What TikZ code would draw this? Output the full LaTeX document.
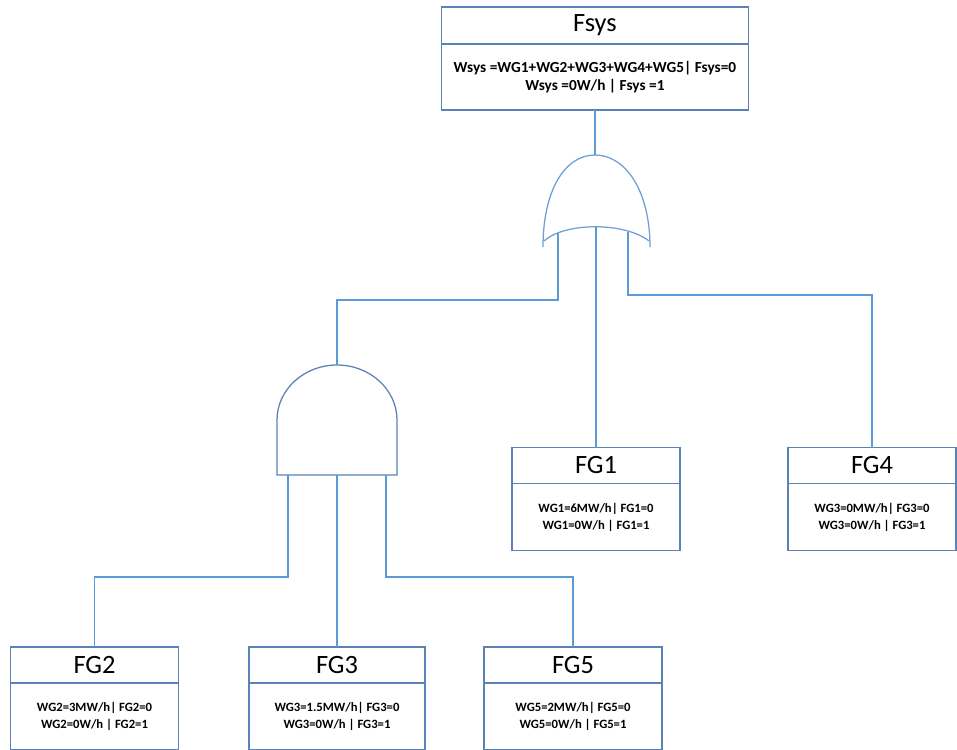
\documentclass[tikz,border=0pt]{standalone}
\usepackage{fontspec}
\setmainfont{Carlito}
\usetikzlibrary{positioning,calc}
\definecolor{boxblue}{HTML}{5A82B6}
\definecolor{wireblue}{HTML}{5B9BD5}
\definecolor{gateblue}{HTML}{6F9FD6}

\begin{document}
\begin{tikzpicture}[x=0.025cm,y=-0.025cm,
  head/.style={draw=boxblue,line width=0.8pt,minimum width=#1,minimum height=0.9cm,inner sep=0pt,outer sep=0pt,font=\fontsize{18.8}{22}\selectfont},
  head/.default=4.2cm,
  body/.style={draw=boxblue,line width=0.8pt,minimum width=#1,minimum height=1.675cm,inner sep=0pt,outer sep=0pt,align=center,font=\fontsize{9}{12}\selectfont\bfseries},
  body/.default=4.2cm,
  wire/.style={draw=wireblue,line width=0.8pt},
  gate/.style={draw=#1,line width=0.9pt}]
\clip (0,0) rectangle (957,749);
% top event
\node[head=7.675cm,minimum height=0.925cm] (fsys) at (595,25.5) {Fsys};
\node[body=7.675cm,minimum height=1.65cm,below=0pt of fsys,font=\fontsize{10.9}{13.3}\selectfont\bfseries] (fsysb) {Wsys =WG1+WG2+WG3+WG4+WG5| Fsys=0\\Wsys =0W/h | Fsys =1};
% OR gate
\coordinate (orTop) at (595,155);
\coordinate (orL) at (558,233);
\coordinate (orM) at (596,227);
\coordinate (orR) at (628,232);
\draw[gate=gateblue] (543,247) .. controls (543,190) and (565,155) .. (orTop) .. controls (625,155) and (650,190) .. (650,247);
\draw[gate=gateblue] (544,241) .. controls (565,222) and (625,222) .. (649,241);
% AND gate
\coordinate (andTop) at (337,365);
\coordinate (andL) at (288,475);
\coordinate (andM) at (337,475);
\coordinate (andR) at (386,475);
\draw[gate=boxblue] (277,475) -- (277,420) .. controls (277,389.6) and (304,365) .. (andTop) .. controls (370,365) and (397,389.6) .. (397,420) -- (397,475) -- cycle;
% basic events
\node[head] (fg1) at (596,465.5) {FG1};
\node[body,below=0pt of fg1] (fg1b) {WG1=6MW/h| FG1=0\\WG1=0W/h | FG1=1};
\node[head] (fg4) at (872,465.5) {FG4};
\node[body,below=0pt of fg4] (fg4b) {WG3=0MW/h| FG3=0\\WG3=0W/h | FG3=1};
\node[head] (fg2) at (94.5,665) {FG2};
\node[body,below=0pt of fg2] (fg2b) {WG2=3MW/h| FG2=0\\WG2=0W/h | FG2=1};
\node[head=4.4cm] (fg3) at (337,665) {FG3};
\node[body=4.4cm,below=0pt of fg3] (fg3b) {WG3=1.5MW/h| FG3=0\\WG3=0W/h | FG3=1};
\node[head=4.45cm] (fg5) at (573,665) {FG5};
\node[body=4.45cm,below=0pt of fg5] (fg5b) {WG5=2MW/h| FG5=0\\WG5=0W/h | FG5=1};
% connectors
\draw[wire] (fsysb.south) -- (orTop);
\draw[wire] (orL) -- ++(0,67) -| (andTop);
\draw[wire] (orM) -- (fg1.north);
\draw[wire] (orR) -- ++(0,63) -| (fg4.north);
\draw[wire] (andL) -- ++(0,102) -| (fg2.north);
\draw[wire] (andM) -- (fg3.north);
\draw[wire] (andR) -- ++(0,102) -| (fg5.north);
\end{tikzpicture}
\end{document}
